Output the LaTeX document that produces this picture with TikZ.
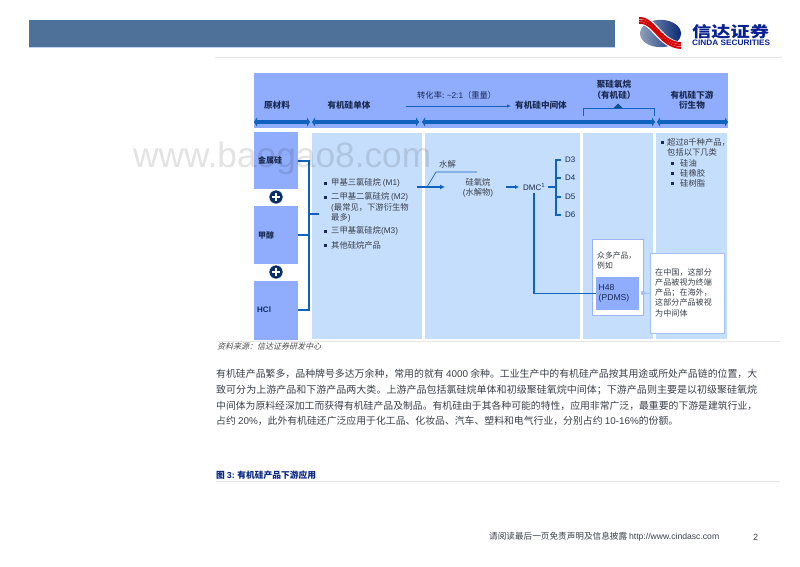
\documentclass[tikz,border=0pt]{standalone}
\usepackage{fontspec}
\usepackage{graphicx}
\usetikzlibrary{arrows.meta}
\setmainfont{Noto Sans CJK SC}
\newfontfamily\latfont{Liberation Sans}
\newfontfamily\cjkit[FakeSlant=0.25]{Noto Sans CJK SC}
\newcommand\lat[1]{{\latfont #1}}
\newcommand\fitw[2]{\resizebox{#1pt}{!}{#2}}
\definecolor{band}{HTML}{4D7198}
\definecolor{head}{HTML}{8FADFC}
\definecolor{pale}{HTML}{C5DEFB}
\definecolor{flow}{HTML}{0F63BE}
\definecolor{navy}{HTML}{0A2E66}
\definecolor{ink}{HTML}{3A3F4A}
\definecolor{headink}{HTML}{1B2A50}
\definecolor{rulec}{HTML}{E6E6E6}
\definecolor{soft}{HTML}{A3BEF8}
\tikzset{
 txt/.style={inner sep=0pt,anchor=west,text=ink,font=\fontsize{8.3}{9}\selectfont},
 htxt/.style={inner sep=0pt,anchor=center,text=headink,font=\fontsize{8.6}{10.5}\selectfont\bfseries,align=center},
 body/.style={inner sep=0pt,anchor=west,text=ink,font=\fontsize{9.6}{12}\selectfont},
 bandarrow/.style={draw=flow,line width=4pt,{Triangle[length=3pt,width=9pt]}-{Triangle[length=3pt,width=9pt]}},
 flowline/.style={draw=flow,line width=1.5pt},
 thin flow/.style={draw=flow,line width=.8pt},
 rawbox/.style={fill=head,inner sep=0pt},
 colbox/.style={fill=pale,inner sep=0pt},
 plusc/.style={circle,fill=navy,draw=white,line width=.5pt,minimum size=14pt,inner sep=0pt},
 bul/.style={fill=headink,minimum size=3pt,inner sep=0pt},
 rulel/.style={draw=rulec,line width=.9pt},
}
\begin{document}
\begin{tikzpicture}[x=1pt,y=-1pt]
\useasboundingbox (0,0) rectangle (800,566);
% banner
\fill[band] (29,20) rectangle (615,47);
\draw[soft!70!white,line width=.6pt] (29,47.3) -- (615,47.3);
\coordinate (rt1a) at (215,57); \coordinate (rt1b) at (782,57);
\draw[rulel] (rt1a) -- (rt1b);
% logo
\begin{scope}
\shade[left color=navy!45!white,right color=navy!90!blue] (660.5,33.5) ellipse (20.5 and 13.7);
\foreach \d/\w/\c in {0/8/white,-2.4/2/red!85!black,0/2/red!85!black,2.4/2/red!85!black}{
 \draw[\c,line width=\w pt] (639,{20.5+\d}) .. controls (654,{19+\d}) and (660,{45+\d}) .. (681,{45.5+\d});
}
\end{scope}
\node[inner sep=0pt,anchor=west,text=navy!70!blue] (lgz) at (692,31.5) {\resizebox{77pt}{13pt}{\bfseries 信达证券}};
\node[inner sep=0pt,anchor=west,text=navy!70!blue] (lge) at (692,42.5) {\resizebox{78pt}{5.5pt}{\latfont\bfseries CINDA SECURITIES}};
% header
\node[rawbox,anchor=north west,minimum width=474pt,minimum height=55pt] (hdr) at (254,73) {};
\coordinate (a1) at (254,122); \coordinate (a2) at (310,122);
\coordinate (a3) at (312,122); \coordinate (a4) at (419,122);
\coordinate (a5) at (422,122); \coordinate (a6) at (655,122);
\coordinate (a7) at (657,122); \coordinate (a8) at (728,122);
\draw[bandarrow] (a1) -- (a2);
\draw[bandarrow] (a3) -- (a4);
\draw[bandarrow] (a5) -- (a6);
\draw[bandarrow] (a7) -- (a8);
\node[htxt] (h1) at (277,105) {原材料};
\node[htxt] (h2) at (349,105) {有机硅单体};
\node[txt,text=headink] (rate) at (417,95.5) {\fitw{79}{转化率: \lat{\textasciitilde2:1}（重量）}};
\node[htxt] (h3) at (541,105) {有机硅中间体};
\coordinate (ra) at (406,106); \coordinate (rb) at (511,106);
\draw[thin flow,-{Latex[length=4pt,width=3.5pt]}] (ra) -- (rb);
\node[htxt] (h4) at (614,89.5) {聚硅氧烷\\（有机硅）};
\node[htxt] (h5) at (692,100) {有机硅下游\\衍生物};
\coordinate (b1) at (583,116); \coordinate (b2) at (654,116);
\draw[thin flow] (b1) -- (583,108.5) -- (654,108.5) -- (b2);
\coordinate (tri) at (618,108);
\fill[flow!80!black] (tri) ++(-4.5,0) -- ++(4.5,-4.5) -- ++(4.5,4.5) -- cycle;
% raw boxes
\node[rawbox,anchor=north west,minimum width=44pt,minimum height=57pt] (metal) at (254,132) {};
\node[rawbox,anchor=north west,minimum width=44pt,minimum height=58pt] (meth) at (254,206) {};
\node[rawbox,anchor=north west,minimum width=44pt,minimum height=59pt] (hcl) at (254,281) {};
\node[plusc] (p1) at (276,197) {};
\node[plusc] (p2) at (276,272) {};
\foreach \p in {p1,p2}{\draw[white,line width=1.6pt] (\p.center) ++(-4,0) -- ++(8,0) (\p.center) ++(0,-4) -- ++(0,8);}
\node[txt,text=headink,font=\fontsize{8}{9}\selectfont\bfseries] (t1) at (258,160.5) {金属硅};
\node[txt,text=headink,font=\fontsize{8}{9}\selectfont\bfseries] (t2) at (258,235) {甲醇};
\node[txt,text=navy,font=\fontsize{8}{9}\latfont\bfseries] (t3) at (257,310) {HCl};
% columns
\node[colbox,anchor=north west,minimum width=110pt,minimum height=206pt] (c1) at (312,133) {};
\node[colbox,anchor=north west,minimum width=155pt,minimum height=206pt] (c2) at (425,133) {};
\node[colbox,anchor=north west,minimum width=70pt,minimum height=206pt] (c3) at (583,133) {};
\node[colbox,anchor=north west,minimum width=71pt,minimum height=206pt] (c4) at (656,133) {};
% raw connectors
\coordinate (bus1) at (309,161); \coordinate (bus2) at (309,235); \coordinate (bus3) at (309,310);
\coordinate (tick) at (319,214); \coordinate (bust) at (309,214);
\draw[flowline] (metal.east |- bus1) -- (bus1) -- (bus3) -- (hcl.east |- bus3);
\draw[flowline] (meth.east |- bus2) -- (bus2);
\draw[flowline] (bust) -- (tick);
% column 1 text
\foreach \y in {183,197,231,245}{\node[bul] at (325,\y) {};}
\node[txt] (m1) at (331,183) {甲基三氯硅烷 \lat{(M1)}};
\node[txt] (m2) at (331,197) {二甲基二氯硅烷 \lat{(M2)}};
\node[txt] (m2b) at (331,207.5) {\lat{(}最常见，下游衍生物};
\node[txt] (m2c) at (331,217.5) {最多\lat{)}};
\node[txt] (m3) at (331,231) {三甲基氯硅烷\lat{(M3)}};
\node[txt] (m4) at (331,245) {其他硅烷产品};
% hydrolysis
\coordinate (ha) at (417,187); \coordinate (hb) at (445,187);
\coordinate (hc) at (427,187); \coordinate (hd) at (436,172); \coordinate (he) at (477,172);
\draw[flowline,-{Latex[length=5pt,width=5pt]}] (ha) -- (hb);
\draw[flow,line width=.7pt] (hc) -- (hd) -- (he);
\node[txt] (water) at (439,164.5) {水解};
\node[txt,anchor=center,align=center,font=\fontsize{8.3}{10.5}\selectfont] (silox) at (478,188) {硅氧烷\\\lat{(}水解物\lat{)}};
\coordinate (da) at (506,187); \coordinate (db) at (519,187);
\draw[flowline,-{Latex[length=4pt,width=4.5pt]}] (da) -- (db);
\node[txt,text=headink,font=\fontsize{8}{9}\latfont] (dmc) at (523,187) {DMC\textsuperscript{1}};
\coordinate (e1) at (556,160); \coordinate (e2) at (556,178); \coordinate (e3) at (556,197); \coordinate (e4) at (556,215);
\foreach \n/\y/\t in {d3/160/D3,d4/178/D4,d5/197/D5,d6/215/D6}{
 \node[txt,text=headink,font=\fontsize{8}{9}\latfont] (\n) at (565,\y) {\t};
}
\draw[flowline] (d3.west) ++(-4,0) -- (e1) -- (e4) -- ++(5,0);
\draw[flowline] (e2) -- ++(5,0) (e3) -- ++(5,0);
\draw[flowline] (dmc.east) ++(3,0) -- (556,187);
% product boxes
\node[fill=white,draw=pale!80!blue,line width=.8pt,anchor=north west,minimum width=51pt,minimum height=76pt,inner sep=0pt] (pbox) at (592,239) {};
\node[rawbox,anchor=north west,minimum width=43pt,minimum height=33pt] (h48) at (596,277) {};
\node[txt,font=\fontsize{7.8}{10.5}\selectfont,align=left] (many) at (597,260.5) {众多产品，\\例如};
\node[txt,text=headink,font=\fontsize{8.6}{10.5}\latfont,align=left] (h48t) at (598.5,293.5) {H48\\(PDMS)};
\draw[flowline] (534,193) coordinate (dm) -- (dm |- h48.west) -- (h48.west);
\node[fill=white,draw=soft,line width=.8pt,anchor=north west,minimum width=74pt,minimum height=80pt,inner sep=0pt] (note) at (650,253) {};
\node[txt,font=\fontsize{8.1}{10.2}\selectfont,align=left] (nt) at (655,292.5) {在中国，这部分\\产品被视为终端\\产品；在海外，\\这部分产品被视\\为中间体};
\fill[soft] (643,293) circle (2.2);
\draw[soft,line width=.9pt] (643,293) -- (note.west |- 643,293);
% column 4
\node[bul] at (662,142) {};
\foreach \y in {163,173,183}{\node[bul] at (672,\y) {};}
\node[txt] (o1) at (667,142) {超过\lat{8}千种产品，};
\node[txt] (o2) at (667,152.5) {包括以下几类};
\node[txt] (o3) at (680,163) {硅油};
\node[txt] (o4) at (680,173) {硅橡胶};
\node[txt] (o5) at (680,183) {硅树脂};
% watermark
\node[inner sep=0pt,anchor=base west,text=black,opacity=.11] (wm) at (133,167) {\fitw{298}{\latfont www.baogao8.com}};
% lower page
\coordinate (r2a) at (216,341); \coordinate (r2b) at (780,341);
\draw[rulel] (r2a) -- (r2b);
\node[txt,text=black!70,font=\fontsize{8}{9}\cjkit] (src) at (217,346.5) {资料来源：信达证券研发中心};
\node[body] (l1) at (216,374) {\fitw{541}{有机硅产品繁多，品种牌号多达万余种，常用的就有 \lat{4000} 余种。工业生产中的有机硅产品按其用途或所处产品链的位置，大}};
\node[body] (l2) at (216,390) {\fitw{541}{致可分为上游产品和下游产品两大类。上游产品包括氯硅烷单体和初级聚硅氧烷中间体；下游产品则主要是以初级聚硅氧烷}};
\node[body] (l3) at (216,406) {\fitw{541}{中间体为原料经深加工而获得有机硅产品及制品。有机硅由于其各种可能的特性，应用非常广泛，最重要的下游是建筑行业，}};
\node[body] (l4) at (216,421) {\fitw{462}{占约 \lat{20\%}，此外有机硅还广泛应用于化工品、化妆品、汽车、塑料和电气行业，分别占约 \lat{10-16\%}的份额。}};
\node[txt,text=navy!80!blue] (fig) at (216,475.5) {\fitw{100}{\bfseries 图 \lat{3:} 有机硅产品下游应用}};
\coordinate (r3a) at (216,481.5); \coordinate (r3b) at (780,481.5);
\draw[rulel] (r3a) -- (r3b);
\node[txt,text=ink] (foot) at (489,537) {\fitw{230}{请阅读最后一页免责声明及信息披露 \lat{http://www.cindasc.com}}};
\node[txt,text=ink,font=\fontsize{9}{9}\latfont] (pg) at (753,537) {2};
\end{tikzpicture}
\end{document}
